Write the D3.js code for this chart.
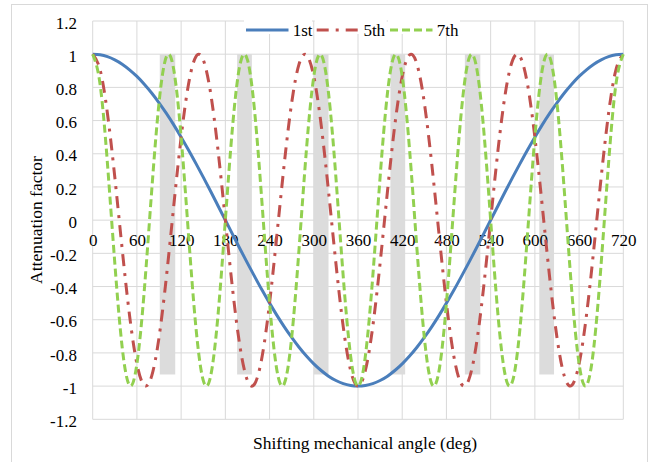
<!DOCTYPE html>
<html><head><meta charset="utf-8">
<script src="https://cdn.jsdelivr.net/npm/d3@7"></script>
<style>
html,body{margin:0;padding:0;background:#fff;}
</style></head>
<body><svg id="c" width="663" height="462"></svg>
<script>
const angles = [0,10,20,30,40,50,60,70,80,90,100,110,120,130,140,150,160,170,180,190,200,210,220,230,240,250,260,270,280,290,300,310,320,330,340,350,360,370,380,390,400,410,420,430,440,450,460,470,480,490,500,510,520,530,540,550,560,570,580,590,600,610,620,630,640,650,660,670,680,690,700,710,720];
const first = [1,0.996,0.985,0.966,0.940,0.906,0.866,0.819,0.766,0.707,0.643,0.574,0.5,0.423,0.342,0.259,0.174,0.087,0,-0.087,-0.174,-0.259,-0.342,-0.423,-0.5,-0.574,-0.643,-0.707,-0.766,-0.819,-0.866,-0.906,-0.940,-0.966,-0.985,-0.996,-1,
  -0.996,-0.985,-0.966,-0.940,-0.906,-0.866,-0.819,-0.766,-0.707,-0.643,-0.574,-0.5,-0.423,-0.342,-0.259,-0.174,-0.087,0,0.087,0.174,0.259,0.342,0.423,0.5,0.574,0.643,0.707,0.766,0.819,0.866,0.906,0.940,0.966,0.985,0.996,1];
const fifth = [1,0.906,0.643,0.259,-0.174,-0.574,-0.866,-0.996,-0.940,-0.707,-0.342,0.087,0.5,0.819,0.985,0.966,0.766,0.423,0,-0.423,-0.766,-0.966,-0.985,-0.819,-0.5,-0.087,0.342,0.707,0.940,0.996,0.866,0.574,0.174,-0.259,-0.643,-0.906,-1,
  -0.906,-0.643,-0.259,0.174,0.574,0.866,0.996,0.940,0.707,0.342,-0.087,-0.5,-0.819,-0.985,-0.966,-0.766,-0.423,0,0.423,0.766,0.966,0.985,0.819,0.5,0.087,-0.342,-0.707,-0.940,-0.996,-0.866,-0.574,-0.174,0.259,0.643,0.906,1];
const seventh = [1,0.819,0.342,-0.259,-0.766,-0.996,-0.866,-0.423,0.174,0.707,0.985,0.906,0.5,-0.087,-0.643,-0.966,-0.940,-0.574,0,0.574,0.940,0.966,0.643,0.087,-0.5,-0.906,-0.985,-0.707,-0.174,0.423,0.866,0.996,0.766,0.259,-0.342,-0.819,-1,
  -0.819,-0.342,0.259,0.766,0.996,0.866,0.423,-0.174,-0.707,-0.985,-0.906,-0.5,0.087,0.643,0.966,0.940,0.574,0,-0.574,-0.940,-0.966,-0.643,-0.087,0.5,0.906,0.985,0.707,0.174,-0.423,-0.866,-0.996,-0.766,-0.259,0.342,0.819,1];
const seriesNames = ["1st","5th","7th"];
const bandStart = [91,196,300,404,505,606];
const bandEnd   = [112,216,320,424,526,626];
const bandTop = 1, bandBottom = -0.93;
const xTicks = [0,60,120,180,240,300,360,420,480,540,600,660,720];
const xTickLabels = ["0","60","120","180","240","300","360","420","480","540","600","660","720"];
const yTicks = [-1.2,-1,-0.8,-0.6,-0.4,-0.2,0,0.2,0.4,0.6,0.8,1,1.2];
const yTickLabels = ["-1.2","-1","-0.8","-0.6","-0.4","-0.2","0","0.2","0.4","0.6","0.8","1","1.2"];

const FONT = "'Liberation Serif', 'Times New Roman', Tinos, 'DejaVu Serif', serif";
const svg = d3.select("#c").attr("font-family", FONT);
const L = 92.7, R = 623.3, T = 21, B = 419.3;
const x = d3.scaleLinear().domain([0,720]).range([L,R]);
const y = d3.scaleLinear().domain([-1.2,1.2]).range([B,T]);

// chart border
svg.append("rect").attr("x",11.5).attr("y",4.5).attr("width",636).attr("height",480)
  .attr("fill","#fff").attr("stroke","#d9d9d9").attr("stroke-width",1);

// gridlines
svg.append("g").selectAll("line").data(yTicks).join("line")
  .attr("x1",L).attr("x2",R).attr("y1",d=>y(d)).attr("y2",d=>y(d))
  .attr("stroke","#d9d9d9").attr("stroke-width",1);
svg.append("g").selectAll("line").data(xTicks).join("line")
  .attr("y1",T).attr("y2",B).attr("x1",d=>x(d)).attr("x2",d=>x(d))
  .attr("stroke","#d9d9d9").attr("stroke-width",1);

// gray bands
svg.append("g").selectAll("rect").data(bandStart).join("rect")
  .attr("x",d=>x(d)).attr("width",(d,i)=>x(bandEnd[i])-x(d))
  .attr("y",y(bandTop)).attr("height",y(bandBottom)-y(bandTop))
  .attr("fill","#dcdcdc");

// axes labels
const yAxis = svg.append("g").attr("transform",`translate(${L},0)`)
  .call(d3.axisLeft(y).tickValues(yTicks).tickFormat((d,i)=>yTickLabels[i]).tickSize(0).tickPadding(15.7));
yAxis.attr("font-family", FONT).attr("font-size",17);
yAxis.select(".domain").remove();
yAxis.selectAll("text").attr("dy","0.42em").attr("fill","#000");

const xAxis = svg.append("g").attr("transform",`translate(0,${y(0)})`)
  .call(d3.axisBottom(x).tickValues(xTicks).tickFormat((d,i)=>xTickLabels[i]).tickSize(0).tickPadding(13.3));
xAxis.attr("font-family", FONT).attr("font-size",17);
xAxis.select(".domain").remove();
xAxis.selectAll("text").attr("fill","#000");

// series
const styles = [
  {color:"#4a7ebb", dash:null},
  {color:"#c0504d", dash:"12,7,3,7"},
  {color:"#92d050", dash:"8,4"}
];
const data = [first, fifth, seventh];
const line = d3.line().x((d,i)=>x(angles[i])).y(d=>y(d)).curve(d3.curveNatural);
data.forEach((s,k)=>{
  svg.append("path").datum(s).attr("d",line).attr("fill","none")
    .attr("stroke",styles[k].color).attr("stroke-width",3)
    .attr("stroke-dasharray",styles[k].dash);
});

// legend
const legendX = [246,316.7,390];
seriesNames.forEach((n,k)=>{
  const g = svg.append("g").attr("transform",`translate(${legendX[k]},30)`);
  g.append("rect").attr("x",-2).attr("y",-10).attr("width",k==0?68:72).attr("height",14).attr("fill","#fff");
  g.append("line").attr("x1",0).attr("x2",42.5).attr("y1",0).attr("y2",0)
    .attr("stroke",styles[k].color).attr("stroke-width",3).attr("stroke-dasharray",styles[k].dash);
  g.append("text").attr("x",46.7).attr("y",5.5).attr("font-size",17).attr("fill","#000").text(n);
});

// axis titles
svg.append("text").attr("transform","translate(42,220) rotate(-90)").attr("text-anchor","middle")
  .attr("font-size",17.5).attr("fill","#000").text("Attenuation factor");
svg.append("text").attr("x",365).attr("y",449).attr("text-anchor","middle")
  .attr("font-size",17.5).attr("fill","#000").text("Shifting mechanical angle (deg)");
</script></body></html>
